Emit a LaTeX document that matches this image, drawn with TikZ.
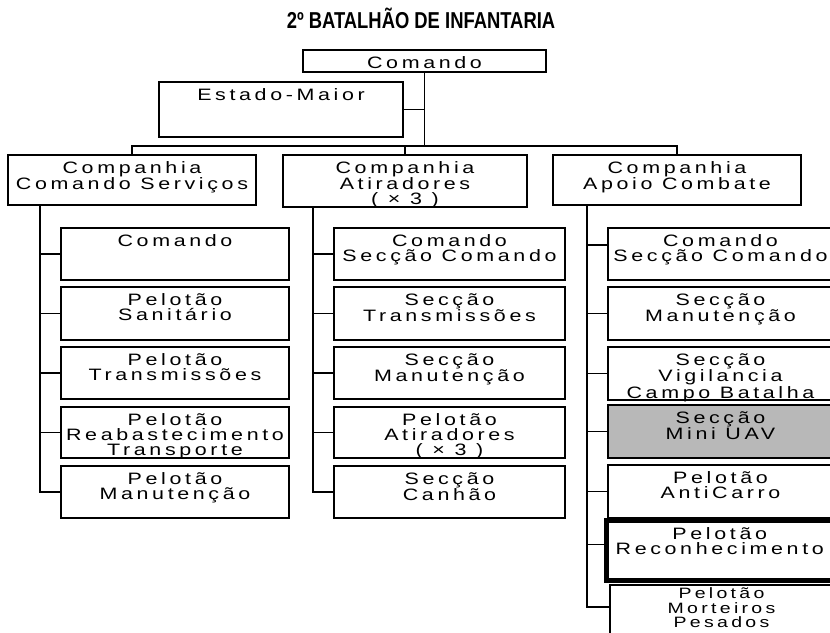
\documentclass[tikz,border=0pt]{standalone}
\usepackage{fontspec}
\setmainfont{Liberation Sans}
\newfontfamily\boxfont[FakeStretch=1.3,LetterSpace=22]{Liberation Sans}
\newfontfamily\titlefont[FakeStretch=0.8]{Liberation Sans Bold}
\tikzset{
  boxs/.style={draw=black, line width=1.5pt, fill=white, rectangle, inner sep=0pt},
  txt/.style={anchor=north, inner sep=0pt, align=center, font=\boxfont\fontsize{16.5}{15}\selectfont},
  conn/.style={draw=black, line width=1.5pt},
  uavfill/.style={fill=black!28},
  recbox/.style={line width=5pt}
}
\newcommand\orgbox[7][]{%
  \node[boxs,#1,minimum width={#5-#3},minimum height={#6-#4}] (#2) at ({(#3+#5)/2},{(#4+#6)/2}) {};
  \node[txt] (#2-t) at ([yshift=-7pt]#2.north) {\rule{0pt}{12pt}#7};
}
\begin{document}
\begin{tikzpicture}[x=1pt,y=-1pt]
\useasboundingbox (0,0) rectangle (830,632);
\clip (0,0) rectangle (830,632);
\fill[white] (0,0) rectangle (830,632);
\node[font=\titlefont\fontsize{23}{24}\selectfont, inner sep=0pt] (title) at (421,18) {2º BATALHÃO DE INFANTARIA};

\coordinate (v1) at (40,0);
\coordinate (v2) at (313,0);
\coordinate (v3) at (587,0);
\coordinate (busy) at (0,146);

% top
\orgbox{cmd}{303}{50}{546}{72}{Comando}
\orgbox{em}{159}{82}{403}{137}{Estado-Maior}
% companhias
\orgbox{c1}{8}{155}{256}{205}{Companhia\\Comando Serviços}
\orgbox{c2}{283}{155}{527}{207}{Companhia\\Atiradores\\( × 3 )}
\orgbox{c3}{553}{155}{801}{205}{Companhia\\Apoio Combate}

% left column
\orgbox{l1}{61}{228}{289}{280}{Comando}
\orgbox{l2}{61}{287}{289}{340}{Pelotão\\Sanitário}
\orgbox{l3}{61}{347}{289}{399}{Pelotão\\Transmissões}
\orgbox{l4}{61}{407}{289}{458}{Pelotão\\Reabastecimento\\Transporte}
\orgbox{l5}{61}{466}{289}{518}{Pelotão\\Manutenção}

% middle column
\orgbox{m1}{334}{228}{565}{280}{Comando\\Secção Comando}
\orgbox{m2}{334}{287}{565}{340}{Secção\\Transmissões}
\orgbox{m3}{334}{347}{565}{399}{Secção\\Manutenção}
\orgbox{m4}{334}{407}{565}{458}{Pelotão\\Atiradores\\( × 3 )}
\orgbox{m5}{334}{466}{565}{518}{Secção\\Canhão}

% right column
\orgbox{r1}{608}{228}{833}{280}{Comando\\Secção Comando}
\orgbox{r2}{608}{287}{833}{340}{Secção\\Manutenção}
\orgbox{r3}{608}{347}{833}{400}{Secção\\Vigilancia\\Campo Batalha}
\orgbox[uavfill]{r4}{608}{405}{833}{458}{Secção\\Mini UAV}
\orgbox{r5}{608}{465}{833}{518}{Pelotão\\AntiCarro}
\node[boxs,recbox,minimum width=226.5,minimum height=60] (r6) at (719.75,550.5) {};
\node[txt] (r6-t) at ([yshift=-9pt]r6.north) {\rule{0pt}{12pt}Pelotão\\Reconhecimento};
\node[boxs,minimum width=223,minimum height=60] (r7) at (721.5,615) {};
\node[txt, font=\boxfont\fontsize{15}{14.2}\selectfont] (r7-t) at ([yshift=-3.5pt]r7.north) {\rule{0pt}{10.5pt}Pelotão\\Morteiros\\Pesados};

% connectors top
\draw[conn] (cmd.south) -- (cmd.south |- busy);
\draw[conn] (em.east) -- (em.east -| cmd.south);
\draw[conn] (c1.north) -- (c1.north |- busy) -- (c3.north |- busy) -- (c3.north);
\draw[conn] (c2.north) -- (c2.north |- busy);

% left
\draw[conn] (c1.south -| v1) |- (l5.west);
\foreach \n in {l1,l2,l3,l4} \draw[conn] (\n.west) -- (\n.west -| v1);
% middle
\draw[conn] (c2.south -| v2) |- (m5.west);
\foreach \n in {m1,m2,m3,m4} \draw[conn] (\n.west) -- (\n.west -| v2);
% right
\draw[conn] (c3.south -| v3) |- ([yshift=8pt]r7.west);
\draw[conn] ([yshift=9pt]r1.west) -- ([yshift=9pt]r1.west -| v3);
\foreach \n in {r2,r3,r4,r5} \draw[conn] (\n.west) -- (\n.west -| v3);
\draw[conn] ([yshift=6pt]r6.west) -- ([yshift=6pt]r6.west -| v3);
\end{tikzpicture}
\end{document}
